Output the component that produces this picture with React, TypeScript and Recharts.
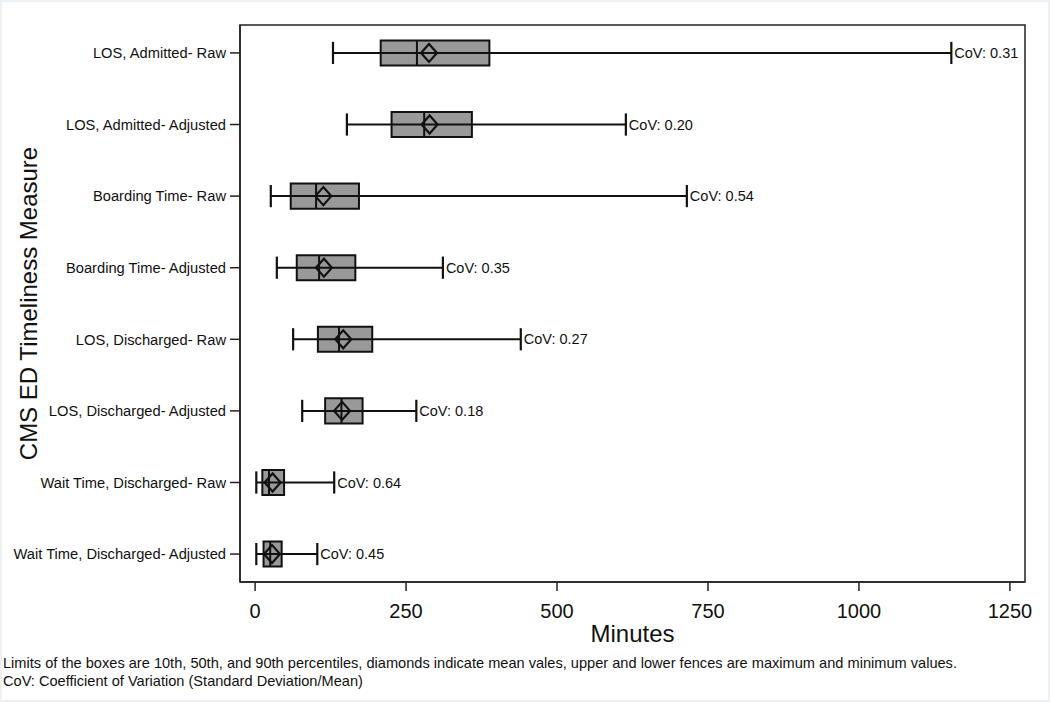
import React from "react";
import {
  ComposedChart,
  ReferenceArea,
  ReferenceDot,
  ReferenceLine,
  Scatter,
  XAxis,
  YAxis,
} from "recharts";

const measures = [
  "LOS, Admitted- Raw",
  "LOS, Admitted- Adjusted",
  "Boarding Time- Raw",
  "Boarding Time- Adjusted",
  "LOS, Discharged- Raw",
  "LOS, Discharged- Adjusted",
  "Wait Time, Discharged- Raw",
  "Wait Time, Discharged- Adjusted",
];
const minVals = [129, 152, 26, 36, 63, 78, 2, 2];
const p10Vals = [208, 226, 59, 69, 104, 116, 12, 14];
const p50Vals = [268, 280, 101, 106, 139, 143, 23, 25];
const p90Vals = [388, 359, 172, 166, 194, 178, 48, 44];
const meanVals = [288, 289, 113, 114, 146, 144, 29, 28];
const maxVals = [1153, 614, 715, 311, 440, 267, 131, 103];
const covVals = ["0.31", "0.20", "0.54", "0.35", "0.27", "0.18", "0.64", "0.45"];
const xTicks = [0, 250, 500, 750, 1000, 1250];

const rows = measures.map((name, i) => ({
  name,
  pos: i + 1,
  min: minVals[i],
  p10: p10Vals[i],
  p50: p50Vals[i],
  p90: p90Vals[i],
  mean: meanVals[i],
  max: maxVals[i],
  cov: covVals[i],
}));

const FONT = "Arial, 'Liberation Sans', Helvetica, sans-serif";
const INK = "#111";
const BOX_HALF = 0.175;
const CAP_HALF = 0.155;

const Diamond = (props: any) => {
  const { cx, cy } = props;
  if (cx == null || cy == null) return null;
  const w = 8;
  const h = 9;
  return (
    <path
      d={`M${cx - w},${cy} L${cx},${cy - h} L${cx + w},${cy} L${cx},${cy + h} Z`}
      fill="none"
      stroke={INK}
      strokeWidth={2.2}
    />
  );
};

export default function App() {
  return (
    <div
      style={{
        position: "absolute",
        left: 0,
        top: 0,
        width: 1050,
        height: 702,
        background: "#fff",
        border: "2px solid #edf1f3",
        boxSizing: "border-box",
        fontFamily: FONT,
      }}
    >
      <div style={{ position: "absolute", left: -2, top: -2 }}>
        <ComposedChart
          width={1050}
          height={650}
          data={rows}
          margin={{ top: 25, right: 25, left: 0, bottom: 0 }}
        >
          <XAxis
            type="number"
            dataKey="mean"
            domain={[-25, 1275]}
            ticks={xTicks}
            allowDataOverflow
            height={68}
            tickSize={9}
            tickMargin={13}
            axisLine={{ stroke: "#222", strokeWidth: 1.5 }}
            tickLine={{ stroke: "#222", strokeWidth: 1.5 }}
            tick={{ fill: INK, fontSize: 20, fontFamily: FONT }}
            label={{
              value: "Minutes",
              position: "insideBottom",
              offset: 8,
              fill: INK,
              fontSize: 24,
              fontFamily: FONT,
            }}
          />
          <YAxis
            type="number"
            dataKey="pos"
            domain={[0.61, 8.39]}
            reversed
            ticks={rows.map((r) => r.pos)}
            interval={0}
            allowDataOverflow
            width={240}
            tickSize={10}
            tickMargin={4}
            tickFormatter={(v: number) => measures[v - 1] ?? ""}
            axisLine={{ stroke: "#222", strokeWidth: 1.5 }}
            tickLine={{ stroke: "#222", strokeWidth: 1.5 }}
            tick={{ fill: INK, fontSize: 14.7, fontFamily: FONT }}
            label={{
              value: "CMS ED Timeliness Measure",
              angle: -90,
              position: "insideLeft",
              offset: 28,
              fill: INK,
              fontSize: 24,
              fontFamily: FONT,
              style: { textAnchor: "middle" },
            }}
          />
          <ReferenceArea
            x1={-25}
            x2={1275}
            y1={0.61}
            y2={8.39}
            fill="none"
            stroke="#222"
            strokeWidth={1.5}
            ifOverflow="visible"
          />
          {rows.map((r) => (
            <ReferenceLine
              key={`w-${r.pos}`}
              segment={[
                { x: r.min, y: r.pos },
                { x: r.max, y: r.pos },
              ]}
              stroke={INK}
              strokeWidth={2}
              ifOverflow="visible"
            />
          ))}
          {rows.map((r) => (
            <ReferenceArea
              key={`b-${r.pos}`}
              x1={r.p10}
              x2={r.p90}
              y1={r.pos - BOX_HALF}
              y2={r.pos + BOX_HALF}
              fill="#999999"
              fillOpacity={1}
              stroke={INK}
              strokeWidth={2}
              ifOverflow="visible"
            />
          ))}
          {rows.map((r) => (
            <ReferenceLine
              key={`m-${r.pos}`}
              segment={[
                { x: r.p50, y: r.pos - BOX_HALF },
                { x: r.p50, y: r.pos + BOX_HALF },
              ]}
              stroke={INK}
              strokeWidth={2}
              ifOverflow="visible"
            />
          ))}
          {rows.map((r) => (
            <ReferenceLine
              key={`lo-${r.pos}`}
              segment={[
                { x: r.min, y: r.pos - CAP_HALF },
                { x: r.min, y: r.pos + CAP_HALF },
              ]}
              stroke={INK}
              strokeWidth={2.2}
              ifOverflow="visible"
            />
          ))}
          {rows.map((r) => (
            <ReferenceLine
              key={`hi-${r.pos}`}
              segment={[
                { x: r.max, y: r.pos - CAP_HALF },
                { x: r.max, y: r.pos + CAP_HALF },
              ]}
              stroke={INK}
              strokeWidth={2.2}
              ifOverflow="visible"
            />
          ))}
          {rows.map((r) => (
            <ReferenceDot
              key={`c-${r.pos}`}
              x={r.max}
              y={r.pos}
              r={0}
              fill="none"
              stroke="none"
              ifOverflow="visible"
              label={{
                value: `CoV: ${r.cov}`,
                position: "right",
                offset: 3,
                fill: INK,
                fontSize: 14.5,
                fontFamily: FONT,
              }}
            />
          ))}
          <Scatter
            data={rows}
            dataKey="mean"
            shape={Diamond}
            isAnimationActive={false}
          />
        </ComposedChart>
      </div>
      <div
        style={{
          position: "absolute",
          left: 1,
          top: 652,
          fontSize: 14.6,
          lineHeight: "18px",
          color: INK,
          whiteSpace: "nowrap",
        }}
      >
        <div>
          Limits of the boxes are 10th, 50th, and 90th percentiles, diamonds indicate mean vales, upper and lower fences are maximum and minimum values.
        </div>
        <div>CoV: Coefficient of Variation (Standard Deviation/Mean)</div>
      </div>
    </div>
  );
}
